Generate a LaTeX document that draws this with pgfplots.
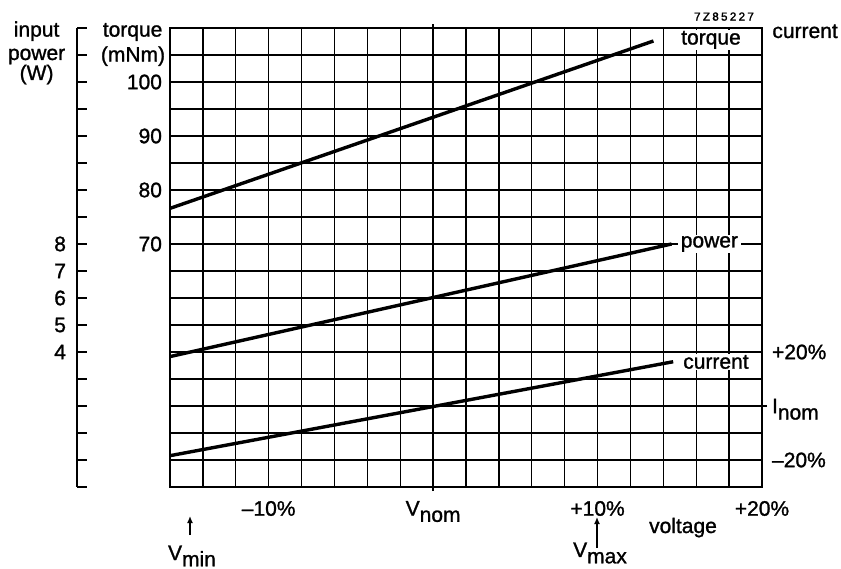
\documentclass[border=0pt]{standalone}
\usepackage{fontspec}
\setmainfont{Liberation Sans}[FakeBold=1.2]
\newfontfamily\codefont[LetterSpace=20, FakeBold=2]{Liberation Sans}
\usepackage{pgfplots}
\pgfplotsset{compat=1.18}
\usetikzlibrary{arrows.meta}

\newcommand{\lbl}{\fontsize{10.5}{12.6}\selectfont}
\newcommand{\sub}[1]{\raisebox{-0.3em}[0pt][0pt]{#1}}

\pgfplotsset{
  chartbox/.style={
    at={(85pt,40.5pt)}, anchor=south west,
    width=296pt, height=229.5pt, scale only axis,
    xmin=-16, xmax=20,
  },
  dataline/.style={black, line width=1.7pt, no marks},
}
\tikzset{
  tag/.style={fill=white, inner xsep=1.5pt, inner ysep=0.6pt, font=\lbl},
  txt/.style={font=\lbl, inner sep=0pt},
}

\begin{document}
\begin{tikzpicture}
\useasboundingbox (0,0) rectangle (420.5pt,284pt);

% torque axis, carries the grid
\begin{axis}[chartbox,
  ymin=25, ymax=110,
  xtick={-16,-14,...,20}, ytick={25,30,...,110},
  grid=major, major grid style={black, line width=0.7pt},
  axis line style={line width=1.15pt},
  major tick style={draw=none},
  xticklabels={,,,\textendash10\%,,,,,V\sub{nom},,,,,+10\%,,,,,+20\%},
  yticklabels={,,,,,,,,,70,,80,,90,,100,,},
  ticklabel style={font=\lbl},
  xticklabel style={yshift=-3.5pt},
  yticklabel style={xshift=-0.5pt},
  extra x ticks={0}, extra x tick labels={},
  extra x tick style={grid=none, tick align=outside, major tick length=2pt,
    major tick style={draw=black, line width=0.7pt}},
  clip=false,
]
\addplot[dataline] coordinates {(-16,76.6) (13.4,107.6)};
\node[tag] at (axis cs:16.9,107.8) {torque};
\end{axis}

% input power
\begin{axis}[chartbox, ymin=-1, ymax=16, hide axis, clip=false]
\addplot[dataline] coordinates {(-16,3.83) (14.5,8.0)};
\node[tag] at (axis cs:16.8,8) {power};
\end{axis}

% current, scale on the right
\begin{axis}[chartbox, ymin=-30, ymax=140,
  hide x axis, axis y line*=right, y axis line style={draw=none},
  ytick={-20,0,20}, yticklabels={\textendash20\%, I\sub{nom}, +20\%},
  yticklabel style={font=\lbl, xshift=1.5pt},
  major tick style={draw=none},
  extra y ticks={0}, extra y tick labels={},
  extra y tick style={tick align=outside, major tick length=2.5pt,
    major tick style={draw=black, line width=0.7pt}},
  clip=false,
]
\addplot[dataline] coordinates {(-16,-18.4) (14.6,16.4)};
\node[tag] at (axis cs:17.2,16.3) {current};
\end{axis}

% power scale on the far left
\begin{axis}[at={(38.5pt,40.5pt)}, anchor=south west,
  width=5pt, height=229.5pt, scale only axis,
  xmin=0, xmax=1, ymin=-1, ymax=16,
  hide x axis, axis y line=left, axis line style={-, line width=1.25pt},
  ytick={-1,0,...,16}, yticklabels={,,,,,4,5,6,7,8,,,,,,,,},
  tick align=inside, major tick length=5pt,
  major tick style={black, line width=0.7pt},
  yticklabel style={font=\lbl, xshift=-2pt},
]
\end{axis}

% axis titles
\node[txt, anchor=base] at (18.3pt,265.7pt) {input};
\node[txt, anchor=base] at (18.3pt,254pt) {power};
\node[txt, anchor=base] at (18.3pt,244pt) {(W)};
\node[txt, anchor=base] at (66.3pt,265.7pt) {torque};
\node[txt, anchor=base] at (66.5pt,253.2pt) {(mNm)};
\node[txt, anchor=base west] at (386pt,265pt) {current};
\node[inner sep=0pt, font={\fontsize{5.8}{6}\codefont}, anchor=base] at (362pt,273.7pt) {7Z85227};
\node[txt, anchor=base] at (341.5pt,17.5pt) {voltage};

% supply limits
\draw[line width=0.8pt, -{Latex[length=3.5pt,width=3pt]}] (95pt,16.5pt) -- (95pt,26pt);
\draw[line width=0.8pt, -{Latex[length=3.5pt,width=3pt]}] (298.5pt,10pt) -- (298.5pt,25.5pt);
\node[txt, anchor=base] at (96pt,4pt) {V\sub{min}};
\node[txt, anchor=base] at (300pt,5.5pt) {V\sub{max}};
\end{tikzpicture}
\end{document}
